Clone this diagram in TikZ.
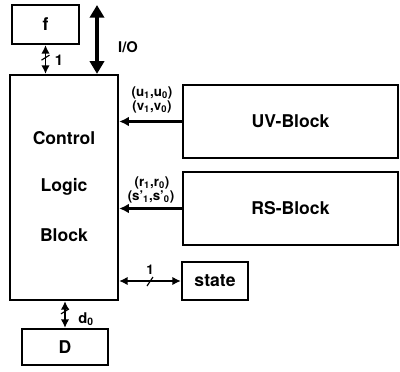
\documentclass[tikz,border=0pt]{standalone}
\usepackage{fontspec}
\setmainfont{TeX Gyre Heros}
\usepackage{tikz}
\usetikzlibrary{arrows.meta, positioning, calc}

\begin{document}
\begin{tikzpicture}[
  x=0.25mm, y=-0.25mm,
  block/.style={rectangle, draw, line width=1.6pt, inner sep=0pt,
                font=\fontsize{12.5}{14}\selectfont\bfseries},
  lbl/.style={font=\fontsize{9.5}{11}\selectfont\bfseries, inner sep=0pt},
  arr/.style={{Latex[length=6pt,width=6pt]}-{Latex[length=6pt,width=6pt]}, line width=1.3pt},
  inarr/.style={-{Latex[length=7pt,width=7pt]}, line width=2pt},
  bus/.style={line width=0.8pt}
]
\useasboundingbox (0,0) rectangle (400,371);
% blocks
\node[block, minimum width=16.75mm, minimum height=9.75mm] (fbox) at (45.5,24.5) {f};
\node[block, minimum width=27mm, minimum height=56.25mm] (ctrl) at (64,187.5) {};
\node[block, minimum width=53.75mm, minimum height=18.25mm] (uv) at (290.5,121.5) {UV-Block};
\node[block, minimum width=53.75mm, minimum height=18.25mm] (rs) at (290.5,208.5) {RS-Block};
\node[block, minimum width=16.5mm, minimum height=9.5mm] (state) at (215,281) {state};
\node[block, minimum width=21.5mm, minimum height=9mm] (dbox) at (65,347) {D};
\node[block, draw=none] (ctrltxt) at (64,138) {Control};
\node[block, draw=none] (logictxt) at (64,187) {Logic};
\node[block, draw=none] (blocktxt) at (64,235) {Block};
% I/O bus
\coordinate (io) at (97,5);
\draw[{Triangle[length=9pt,width=10pt]}-{Triangle[length=9pt,width=10pt]}, line width=3pt]
  (io) -- (io |- ctrl.north);
\node[lbl, font=\fontsize{10.5}{12}\selectfont\bfseries] (iolbl) at (128,47) {I/O};
% f and D links
\draw[arr] (fbox.south) -- (fbox.south |- ctrl.north);
\draw[bus] ($(fbox.south)+(-4,15)$) -- ++(8,-5);
\node[lbl, font=\fontsize{10.5}{12}\selectfont\bfseries] (flbl) at (59,60) {1};
\draw[arr] (dbox.north) -- (dbox.north |- ctrl.south);
\draw[bus] ($(dbox.north)+(-4,-14)$) -- ++(8,-5);
\node[lbl, font=\fontsize{10.5}{12}\selectfont\bfseries] (dlbl) at (86,319) {d\textsubscript{0}};
% UV and RS buses
\draw[inarr] (uv.west) -- (uv.west -| ctrl.east);
\node[lbl] (ulbl) at (152,93) {(u\textsubscript{1},u\textsubscript{0})};
\node[lbl] (vlbl) at (152,107) {(v\textsubscript{1},v\textsubscript{0})};
\draw[inarr] (rs.west) -- (rs.west -| ctrl.east);
\node[lbl] (rlbl) at (152,183) {(r\textsubscript{1},r\textsubscript{0})};
\node[lbl] (slbl) at (151,197) {(s'\textsubscript{1},s'\textsubscript{0})};
% state link
\draw[arr] (state.west) -- (state.west -| ctrl.east);
\draw[bus] (147,286) -- ++(6,-9);
\node[lbl] (stlbl) at (150,270) {1};
\end{tikzpicture}
\end{document}
